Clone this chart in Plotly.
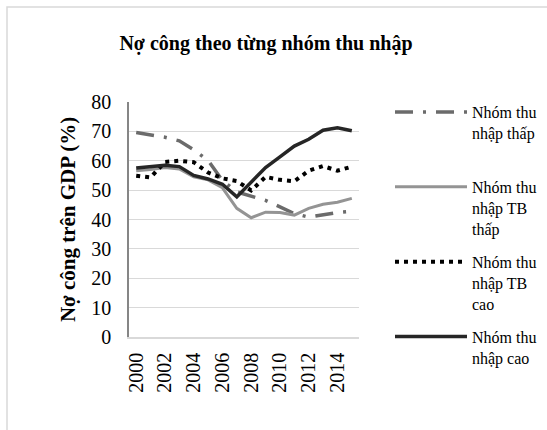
import plotly.graph_objects as go

years = list(range(2000, 2016))
tick_years = [2000, 2002, 2004, 2006, 2008, 2010, 2012, 2014]
tick_labels = [str(y) for y in tick_years]

nhom_thap = [69.6, 68.9, 68.0, 66.8, 63.7, 60.1, 53.3, 49.4, 48.0, 46.5, 44.3, 42.0, 40.8, 41.7, 42.4, 42.8]
nhom_tb_thap = [56.6, 57.0, 57.7, 57.2, 54.5, 53.5, 50.8, 43.8, 40.6, 42.5, 42.4, 41.5, 43.8, 45.2, 45.9, 47.2]
nhom_tb_cao = [54.9, 54.3, 59.6, 60.0, 59.5, 56.0, 54.0, 53.1, 49.9, 54.5, 53.5, 53.0, 56.6, 58.2, 56.6, 58.0]
nhom_cao = [57.5, 58.1, 58.5, 58.0, 55.0, 53.8, 52.0, 47.7, 52.8, 57.7, 61.3, 65.0, 67.3, 70.4, 71.2, 70.2]

names = ["Nhóm thu<br>nhập thấp<br> ", "Nhóm thu<br>nhập TB<br>thấp",
         "Nhóm thu<br>nhập TB<br>cao", "Nhóm thu<br>nhập cao<br> "]

FONT = "'Liberation Serif', 'Times New Roman', serif"

fig = go.Figure()
fig.add_trace(go.Scatter(x=years, y=nhom_thap, mode="lines", name=names[0], legendgroup="a",
                         line=dict(color="#6b6b6b", width=3.5, dash="18px,10px,3px,10px")))
fig.add_trace(go.Scatter(x=years, y=nhom_tb_thap, mode="lines", name=names[1], legendgroup="b",
                         line=dict(color="#949494", width=3)))
fig.add_trace(go.Scatter(x=years, y=nhom_tb_cao, mode="lines", name=names[2], legendgroup="c",
                         line=dict(color="#000000", width=4, dash="4px,5px")))
fig.add_trace(go.Scatter(x=years, y=nhom_cao, mode="lines", name=names[3], legendgroup="d",
                         line=dict(color="#262626", width=3.5)))

W, H = 547, 430
L, R, T, B = 129, 188, 102, 93
pw, ph = W - L - R, H - T - B

def px_x(p):
    return (p - L) / pw

def px_y(p):
    return (H - B - p) / ph

fig.add_shape(type="rect", xref="paper", yref="paper",
              x0=px_x(7), x1=px_x(600), y0=px_y(480), y1=px_y(7),
              line=dict(color="#d9d9d9", width=1.5), fillcolor="rgba(0,0,0,0)", layer="below")

fig.update_layout(
    width=W, height=H,
    margin=dict(l=L, r=R, t=T, b=B, autoexpand=False),
    paper_bgcolor="white", plot_bgcolor="white",
    font=dict(family=FONT, color="#000000"),
    title=dict(text="<b>Nợ công theo từng nhóm thu nhập</b>", x=266 / W, xanchor="center",
               y=1 - 43 / H, yanchor="middle", font=dict(family=FONT, size=20, color="#000000")),
    xaxis=dict(range=[1999.5, 2015.5], tickmode="array", tickvals=tick_years, ticktext=tick_labels,
               tickangle=-90, tickfont=dict(family=FONT, size=20, color="#000000"),
               showgrid=False, zeroline=False, showline=True, linecolor="#d9d9d9", linewidth=1.5,
               ticks="", ticklabelstandoff=6),
    yaxis=dict(range=[0, 80], tickmode="array", tickvals=list(range(0, 81, 10)),
               tickfont=dict(family=FONT, size=20, color="#000000"),
               showgrid=True, gridcolor="#d9d9d9", gridwidth=1, zeroline=False,
               showline=True, linecolor="#868686", linewidth=1.5, ticks="", ticklabelstandoff=12,
               title=dict(text="<b>Nợ công trên GDP (%)</b>", standoff=10,
                          font=dict(family=FONT, size=21, color="#000000"))),
    legend=dict(x=px_x(390), xanchor="left", y=px_y(95), yanchor="top",
                font=dict(family=FONT, size=16, color="#000000"),
                valign="top", itemwidth=72, tracegroupgap=9.5, bgcolor="rgba(0,0,0,0)",
                maxheight=420),
    showlegend=True,
)

fig.write_html("out.html", config={"displayModeBar": False},
               post_script="document.body.style.margin='0';")
